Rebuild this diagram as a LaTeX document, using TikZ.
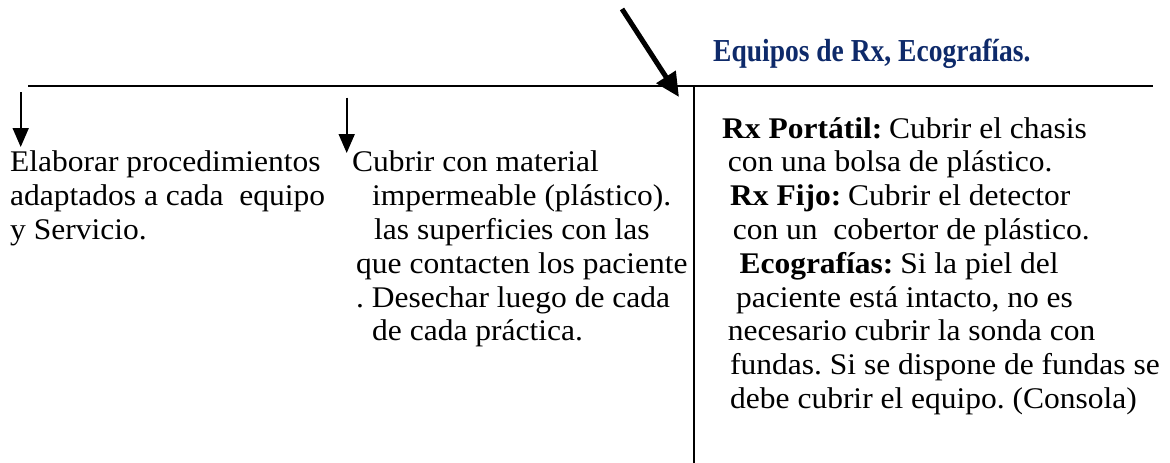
\documentclass[tikz,border=0pt]{standalone}
\usepackage{fontspec}
\setmainfont{Liberation Serif}[FakeStretch=1.05]
\newfontfamily\titlefont{Liberation Serif}[FakeStretch=0.86]
\usetikzlibrary{arrows.meta}
\definecolor{titleblue}{HTML}{0E2A6A}
\frenchspacing
\begin{document}
\begin{tikzpicture}[x=1pt,y=-1pt,
  txt/.style={anchor=base west,inner sep=0pt,font=\fontsize{30}{34}\selectfont\frenchspacing},
  ttl/.style={anchor=base west,inner sep=0pt,font=\titlefont\bfseries\fontsize{32}{34}\selectfont\frenchspacing,text=titleblue},
  rule/.style={line width=2pt},
  smallarrow/.style={line width=1.8pt,-{Triangle[length=19pt,width=16pt]}},
  bigarrow/.style={line width=5pt,-{Triangle[length=24pt,width=22pt]}}]
\useasboundingbox (0,0) rectangle (1170,463);

% rules
\coordinate (hl) at (28,86);
\coordinate (hr) at (1153,86);
\coordinate (vt) at (694,87);
\coordinate (vb) at (694,463);
\draw[rule] (hl) -- (hr);
\draw[rule] (vt) -- (vb);

% title
\node[ttl] (title) at (713,61) {Equipos de Rx, Ecografías.};

% arrows
\coordinate (d1) at (622,9);
\coordinate (d2) at (679,97);
\draw[bigarrow] (d1) -- (d2);
\coordinate (a1s) at (20.7,92);
\coordinate (a1e) at (20.7,147);
\draw[smallarrow] (a1s) -- (a1e);
\coordinate (a2s) at (346.7,97.5);
\coordinate (a2e) at (346.7,153);
\draw[smallarrow] (a2s) -- (a2e);

% left column
\node[txt] (l1) at (10,171.8) {Elaborar procedimientos};
\node[txt] (l2) at (10,205.6) {adaptados a cada\ \ equipo};
\node[txt] (l3) at (10,239.4) {y Servicio.};

% middle column
\node[txt] (m1) at (352,171.8) {Cubrir con material};
\node[txt] (m2) at (372,205.6) {impermeable (plástico).};
\node[txt] (m3) at (374,239.4) {las superficies con las};
\node[txt] (m4) at (356,273.2) {que contacten los paciente};
\node[txt] (m5) at (356,307) {. Desechar luego de cada};
\node[txt] (m6) at (372,340.8) {de cada práctica.};

% right column
\node[txt] (r1) at (722,138) {\textbf{Rx Portátil:}\kern-1pt\ Cubrir el chasis};
\node[txt] (r2) at (727.7,171.8) {con una bolsa de plástico.};
\node[txt] (r3) at (730,205.6) {\textbf{Rx Fijo:}\kern-1pt\ Cubrir el detector};
\node[txt] (r4) at (732.7,239.4) {con un\ \ cobertor de plástico.};
\node[txt] (r5) at (739.3,273.2) {\textbf{Ecografías:}\kern-1pt\ Si la piel del};
\node[txt] (r6) at (736,307) {paciente está intacto, no es};
\node[txt] (r7) at (727.7,340.8) {necesario cubrir la sonda con};
\node[txt] (r8) at (730,374.6) {fundas. Si se dispone de fundas se};
\node[txt] (r9) at (730,408.4) {debe cubrir el equipo. (Consola)};
\end{tikzpicture}
\end{document}
